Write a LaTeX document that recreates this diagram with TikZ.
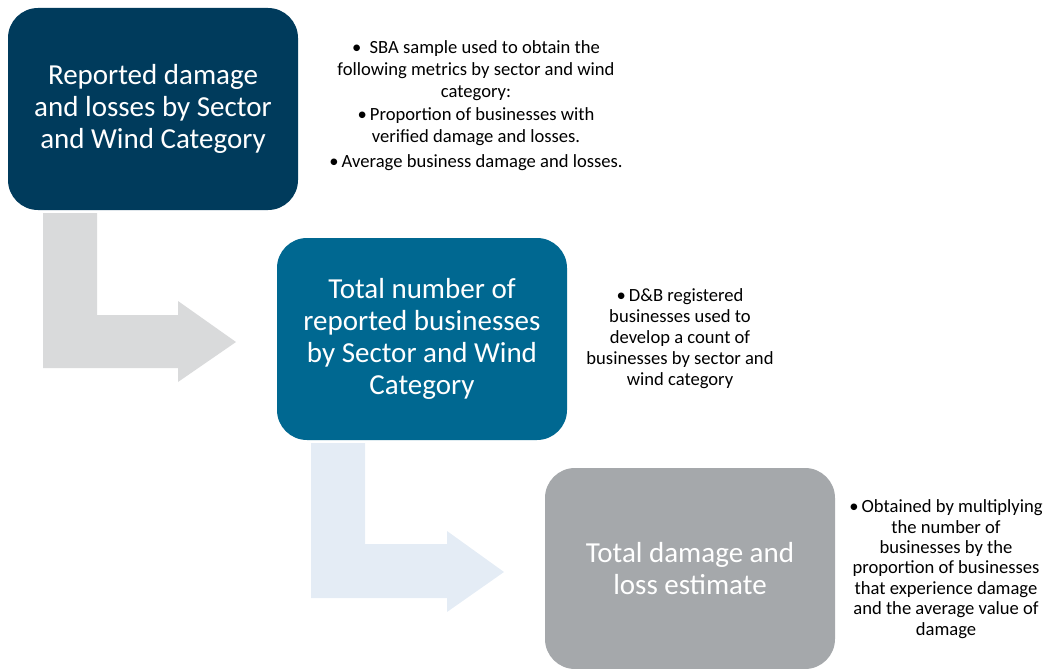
\documentclass[tikz,border=0pt]{standalone}
\usepackage{fontspec}
\setmainfont{Carlito}
\definecolor{navy}{RGB}{0,59,92}
\definecolor{teal}{RGB}{0,104,145}
\definecolor{stone}{RGB}{165,168,171}
\definecolor{arrowgray}{RGB}{217,218,219}
\definecolor{arrowblue}{RGB}{228,236,245}
\tikzset{
  stagebox/.style={rounded corners=30pt, minimum width=290pt, inner sep=0pt,
    text=white, align=center,
    font=\fontsize{29}{32}\selectfont},
  notetext/.style={align=center, inner sep=0pt, text=black,
    font=\fontsize{18.6}{21}\selectfont},
}
\begin{document}
\begin{tikzpicture}[x=1pt,y=-1pt]
\useasboundingbox (0,0) rectangle (1045,669);

% bent block arrows between the stages
\fill[arrowgray] (43,213) -- (97,213) -- (97,315) -- (178,315) -- (178,301)
  -- (236,342) -- (178,382) -- (178,368) -- (43,368) -- cycle;
\fill[arrowblue] (311,443) -- (365,443) -- (365,544) -- (447,544) -- (447,531)
  -- (504,572) -- (447,612) -- (447,598) -- (311,598) -- cycle;

% the three stages
\node[stagebox, fill=navy, minimum height=202pt] (s1) at (153,109)
  {Reported damage\\and losses by Sector\\and Wind Category};
\node[stagebox, fill=teal, minimum height=202pt] (s2) at (422,339)
  {Total number of\\reported businesses\\by Sector and Wind\\Category};
\node[stagebox, fill=stone, minimum height=201pt] (s3) at (690,568.5)
  {Total damage and\\loss estimate};

% notes beside each stage
\node[notetext, font=\fontsize{18.6}{22}\selectfont] (n1) at (476,106)
  {\textbullet\ \ SBA sample used to obtain the\\
   following metrics by sector and wind\\
   category:\\[1pt]
   \textbullet\,Proportion of businesses with\\
   verified damage and losses.\\[3pt]
   \textbullet\,Average business damage and losses.};
\node[notetext] (n2) at (680,339)
  {\textbullet\,D\&B registered\\
   businesses used to\\
   develop a count of\\
   businesses by sector and\\
   wind category};
\node[notetext, font=\fontsize{18.6}{20.4}\selectfont] (n3) at (946,569)
  {\textbullet\,Obtained by multiplying\\
   the number of\\
   businesses by the\\
   proportion of businesses\\
   that experience damage\\
   and the average value of\\
   damage};
\end{tikzpicture}
\end{document}
